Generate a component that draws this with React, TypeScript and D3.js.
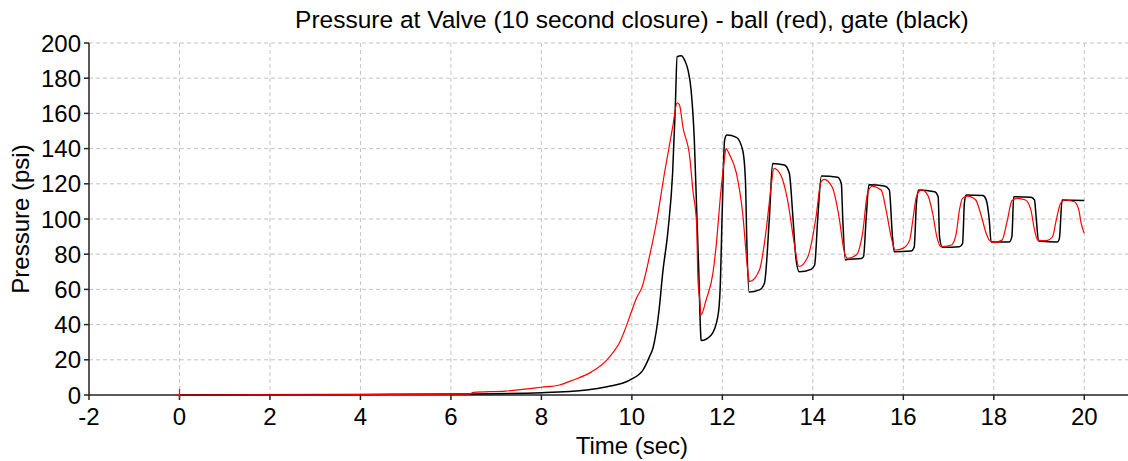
import React from "react";
import * as d3 from "d3";

const title = "Pressure at Valve (10 second closure) - ball (red), gate (black)";
const xLabel = "Time (sec)";
const yLabel = "Pressure (psi)";
const xTicks = [-2, 0, 2, 4, 6, 8, 10, 12, 14, 16, 18, 20];
const yTicks = [0, 20, 40, 60, 80, 100, 120, 140, 160, 180, 200];

// ball valve (red)
const ballTime = [
  -0.1, 0, 0, 0, 0.01, 4, 6.4, 6.5, 7.2, 8.0, 8.4, 8.7, 9.1, 9.45, 9.75, 10.0, 10.1, 10.22, 10.4,
  10.55, 10.72, 10.9, 11.0, 11.05, 11.13, 11.28, 11.35, 11.43, 11.46, 11.5, 11.53, 11.64, 11.79,
  11.86, 11.97, 12.05, 12.08, 12.15, 12.31, 12.45, 12.56, 12.6, 12.82, 12.96, 13.07, 13.14, 13.29,
  13.44, 13.59, 13.69, 13.89, 14.07, 14.18, 14.25, 14.43, 14.58, 14.69, 14.77, 14.96, 15.1, 15.21,
  15.31, 15.51, 15.62, 15.73, 15.82, 15.99, 16.14, 16.21, 16.29, 16.4, 16.54, 16.65, 16.74, 16.83,
  17.06, 17.17, 17.24, 17.31, 17.42, 17.6, 17.71, 17.83, 17.9, 18.0, 18.18, 18.3, 18.4, 18.52, 18.7,
  18.82, 18.9, 18.97, 19.15, 19.3, 19.38, 19.48, 19.58, 19.78, 19.88, 19.93, 20.0,
];
const ballPressure = [
  0, 0, 3.4, -1.7, 0, 0.2, 0.5, 1.5, 2.2, 4.4, 5.7, 8.5, 13, 20, 31, 48, 55, 61, 80,
  99, 126, 152, 166, 165, 152, 135, 116, 97.6, 66, 54, 45.5, 54, 69,
  84, 116.5, 135, 140, 137, 126, 103, 71, 64.4, 71, 92, 116.5, 128.8, 125,
  111, 86, 73, 78.6, 101, 121, 122.5, 118, 101, 82, 77.6, 79.5, 92, 114.6,
  118.6, 116.5, 105, 90, 82.4, 83.3, 88, 99.4, 112.7, 116.5, 113.6, 103, 90, 84.3,
  85.2, 91.9, 105, 111.7, 113, 110.8, 103, 92, 88, 86.6, 88, 99.4, 110.4, 111.7, 110.8,
  105, 93.8, 88, 87.7, 90, 99.4, 109, 110.8, 109.8, 105, 97.6, 91.9,
];

// gate valve (black)
const gateTime = [
  0, 4, 6.4, 8.0, 9.0, 9.45, 9.95, 10.24, 10.39, 10.47, 10.6, 10.68, 10.8, 10.9, 10.96, 11.0,
  11.09, 11.17, 11.24, 11.31, 11.38, 11.43, 11.48, 11.52, 11.53, 11.75, 11.9, 11.95, 12.0, 12.05,
  12.1, 12.31, 12.45, 12.51, 12.54, 12.59, 12.82, 12.93, 13.04, 13.11, 13.37, 13.48, 13.56, 13.63,
  13.7, 13.96, 14.04, 14.11, 14.19, 14.55, 14.63, 14.66, 14.72, 14.75, 15.07, 15.12, 15.18, 15.24,
  15.58, 15.69, 15.76, 15.8, 16.17, 16.24, 16.29, 16.34, 16.69, 16.77, 16.8, 16.86, 17.24, 17.31,
  17.35, 17.39, 17.76, 17.83, 17.9, 17.94, 18.34, 18.4, 18.44, 18.82, 18.9, 18.93, 18.99, 19.41,
  19.45, 19.51, 20.0,
];
const gatePressure = [
  0, 0.3, 0.6, 1.3, 2.8, 4.7, 8.5, 14, 21.8, 27, 48, 69, 93.8, 126, 163.8, 192.2,
  192.8, 190, 184.7, 173, 145, 107, 69, 35, 31, 34, 44.5, 59.7, 107, 145,
  147.7, 146.4, 139, 122, 88, 58.5, 59.7, 63.5, 101, 131.6, 130.7, 126, 101, 76.7,
  70, 71.4, 73.9, 101, 124.4, 123.7, 120, 101, 76.7, 77, 77.6, 78.6, 101, 119.5,
  118.8, 116.5, 90, 81.4, 81.8, 84, 109, 116.5, 115.5, 112.7, 90, 84, 84.3, 86,
  109, 113.6, 113.3, 111, 99.4, 87, 87, 90, 112.7, 112.3, 110.8, 103, 87.5, 87,
  89, 110.8, 110.5,
];

const W = 1128;
const H = 461;
const left = 89;
const top = 43;
const bottom = 395;

const font = "'Liberation Sans', Arial, sans-serif";

export default function App() {
  const x = d3.scaleLinear().domain([-2, 22]).range([left, left + 24 * 45.24]);
  const y = d3.scaleLinear().domain([0, 200]).range([bottom, top]);

  const lineLinear = d3
    .line<[number, number]>()
    .x((d) => x(d[0]))
    .y((d) => y(d[1]));
  const lineSmooth = d3
    .line<[number, number]>()
    .x((d) => x(d[0]))
    .y((d) => y(d[1]))
    .curve(d3.curveMonotoneX);

  const ball: [number, number][] = ballTime.map((t, i) => [t, ballPressure[i]]);
  const gate: [number, number][] = gateTime.map((t, i) => [t, gatePressure[i]]);
  const ballStart = ball.filter((d) => d[0] <= 0.01);
  const ballRest = ball.filter((d) => d[0] >= 0.01);

  const xMid = (x(-2) + x(22)) / 2;

  return (
    <svg
      width={W}
      height={H}
      style={{ position: "absolute", left: 0, top: 0, background: "#fff" }}
      fontFamily={font}
    >
      <rect x={0} y={0} width={W} height={H} fill="#fff" />
      {yTicks
        .filter((v) => v !== 0)
        .map((v) => (
          <line
            key={"gy" + v}
            x1={left}
            x2={W}
            y1={y(v)}
            y2={y(v)}
            stroke="#c4c4c4"
            strokeWidth={1}
            strokeDasharray="4,3"
          />
        ))}
      {xTicks
        .filter((v) => v !== -2)
        .map((v) => (
          <line
            key={"gx" + v}
            x1={x(v)}
            x2={x(v)}
            y1={top}
            y2={bottom}
            stroke="#c4c4c4"
            strokeWidth={1}
            strokeDasharray="4,3"
          />
        ))}
      <line x1={left} x2={W} y1={bottom} y2={bottom} stroke="#222" strokeWidth={1.5} />
      <line x1={left} x2={left} y1={top} y2={bottom} stroke="#222" strokeWidth={1.5} />
      {yTicks.map((v) => (
        <g key={"yt" + v}>
          <line x1={left - 5} x2={left} y1={y(v)} y2={y(v)} stroke="#222" strokeWidth={1.5} />
          <text x={81} y={y(v)} dy="0.36em" textAnchor="end" fontSize={24} fill="#000">
            {v}
          </text>
        </g>
      ))}
      {xTicks.map((v) => (
        <g key={"xt" + v}>
          <line x1={x(v)} x2={x(v)} y1={bottom} y2={bottom + 5} stroke="#222" strokeWidth={1.5} />
          <text x={x(v)} y={424.5} textAnchor="middle" fontSize={24} fill="#000">
            {v}
          </text>
        </g>
      ))}
      <path d={lineSmooth(gate) || ""} fill="none" stroke="#000" strokeWidth={1.5} strokeLinejoin="round" />
      <path d={lineLinear(ballStart) || ""} fill="none" stroke="#ff0000" strokeWidth={1.2} />
      <path d={lineSmooth(ballRest) || ""} fill="none" stroke="#ff0000" strokeWidth={1.2} strokeLinejoin="round" />
      <text x={xMid} y={28} textAnchor="middle" fontSize={24.5} fill="#000">
        {title}
      </text>
      <text x={xMid} y={454} textAnchor="middle" fontSize={24} fill="#000">
        {xLabel}
      </text>
      <text
        transform={`translate(29, ${(top + bottom) / 2}) rotate(-90)`}
        textAnchor="middle"
        fontSize={24}
        fill="#000"
      >
        {yLabel}
      </text>
    </svg>
  );
}
